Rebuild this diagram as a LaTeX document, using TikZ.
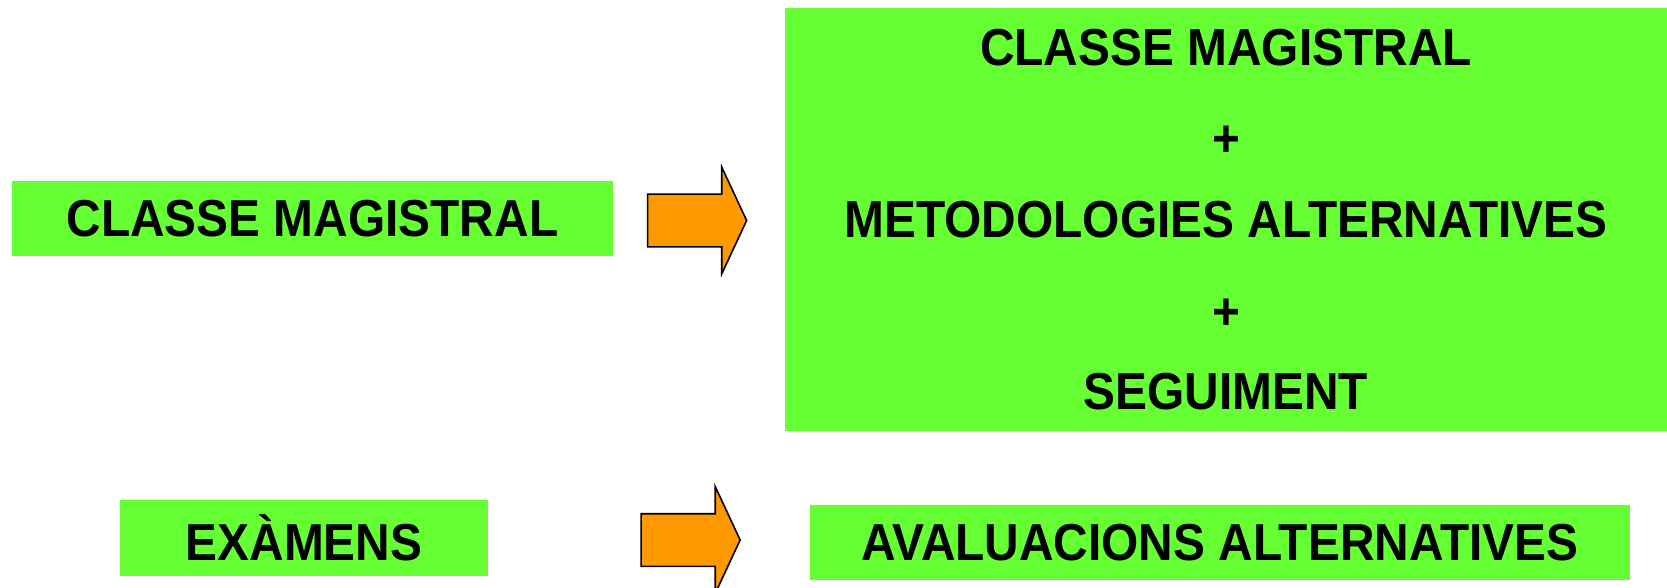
\documentclass[tikz,border=0pt]{standalone}
\usepackage{fontspec}
\setmainfont{Liberation Sans}[FakeStretch=0.92]
\usetikzlibrary{shapes.arrows, positioning}
\definecolor{boxgreen}{HTML}{66FF33}
\definecolor{arroworange}{HTML}{FF9900}

\begin{document}
\begin{tikzpicture}[
    x=1pt, y=-1pt,
    greenbox/.style={fill=boxgreen, inner sep=0pt, align=center, font=\fontsize{52}{86}\selectfont\bfseries},
    blockarrow/.style={single arrow, fill=arroworange, draw=black, line width=1.6pt, inner xsep=0pt, inner ysep=25.5pt,
        minimum height=99pt, single arrow head extend=27pt, single arrow tip angle=130},
]
    \useasboundingbox (0,0) rectangle (1667,588);
    % Top row
    \node[greenbox, minimum width=601pt, minimum height=75pt] (lecture) at (312.5,218.5) {CLASSE MAGISTRAL};
    \node[blockarrow] (arrowtop) at (691,220.5) {};
    \node[greenbox, minimum width=882pt, minimum height=423pt] (mixed) at (1226,219.5)
        {CLASSE MAGISTRAL\\\raisebox{-5pt}{+}\\METODOLOGIES ALTERNATIVES\\\raisebox{-6pt}{+}\\SEGUIMENT};
    % Bottom row
    \node[greenbox, minimum width=368pt, minimum height=76pt] (exams) at (304,538) {EXÀMENS};
    \node[blockarrow] (arrowbottom) at (684.5,540) {};
    \node[greenbox, minimum width=820pt, minimum height=75pt] (assess) at (1220,542.5) {AVALUACIONS ALTERNATIVES};
\end{tikzpicture}
\end{document}
